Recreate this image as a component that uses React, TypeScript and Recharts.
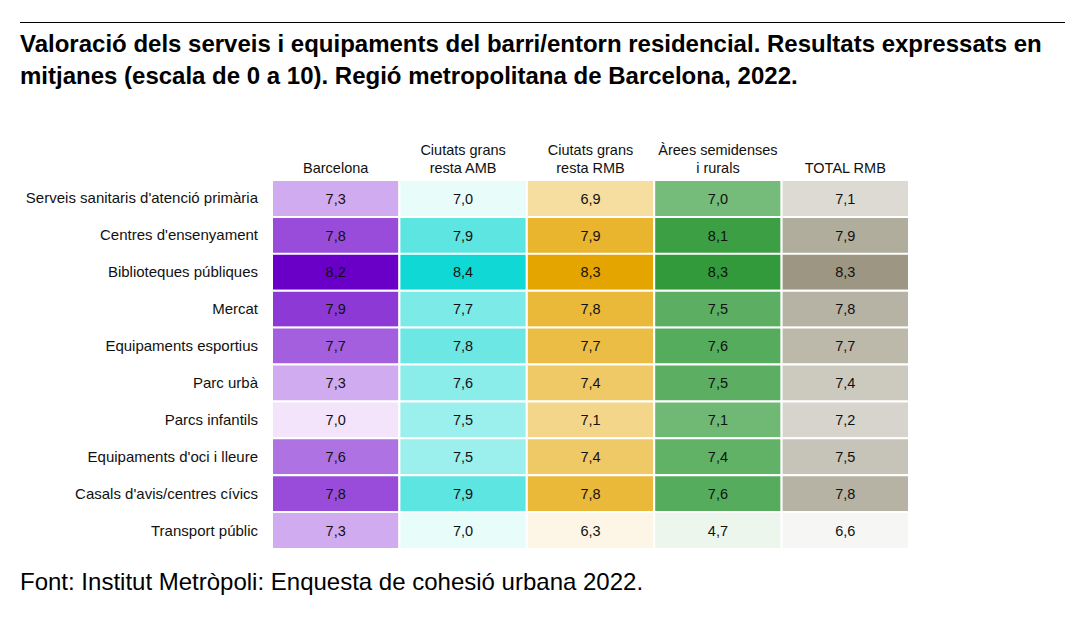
import React from 'react';
import { BarChart, Bar, XAxis, YAxis, Cell, LabelList } from 'recharts';

const rowLabels = [
  "Serveis sanitaris d'atenció primària",
  "Centres d'ensenyament",
  'Biblioteques públiques',
  'Mercat',
  'Equipaments esportius',
  'Parc urbà',
  'Parcs infantils',
  "Equipaments d'oci i lleure",
  "Casals d'avis/centres cívics",
  'Transport públic',
];

const columnHeaders = [
  ['Barcelona'],
  ['Ciutats grans', 'resta AMB'],
  ['Ciutats grans', 'resta RMB'],
  ['Àrees semidenses', 'i rurals'],
  ['TOTAL RMB'],
];

const barcelona = [7.3, 7.8, 8.2, 7.9, 7.7, 7.3, 7.0, 7.6, 7.8, 7.3];
const restaAMB = [7.0, 7.9, 8.4, 7.7, 7.8, 7.6, 7.5, 7.5, 7.9, 7.0];
const restaRMB = [6.9, 7.9, 8.3, 7.8, 7.7, 7.4, 7.1, 7.4, 7.8, 6.3];
const semidenses = [7.0, 8.1, 8.3, 7.5, 7.6, 7.5, 7.1, 7.4, 7.6, 4.7];
const totalRMB = [7.1, 7.9, 8.3, 7.8, 7.7, 7.4, 7.2, 7.5, 7.8, 6.6];

const series = [barcelona, restaAMB, restaRMB, semidenses, totalRMB];

// colour ramps per column (low -> high)
const lowColors = ['#f3e4fc', '#e8fcfa', '#fdf6e6', '#ecf6ec', '#f6f6f4'];
const highColors = ['#6a00c8', '#10d8d4', '#e5a500', '#329a3a', '#9c9682'];

const hexToRgb = (h: string) => [1, 3, 5].map((i) => parseInt(h.slice(i, i + 2), 16));
const colorFor = (col: number, v: number) => {
  const vals = series[col];
  const mn = Math.min(...vals);
  const mx = Math.max(...vals);
  const t = mx === mn ? 0 : (v - mn) / (mx - mn);
  const a = hexToRgb(lowColors[col]);
  const b = hexToRgb(highColors[col]);
  const c = a.map((x, i) => Math.round(x + (b[i] - x) * t));
  return `rgb(${c[0]},${c[1]},${c[2]})`;
};

const tableData = rowLabels.map((row, i) => {
  const o: any = { row };
  series.forEach((s, k) => {
    o[`s${k}`] = 1;
    o[`v${k}`] = s[i];
  });
  return o;
});

const FONT = '"Liberation Sans", Arial, sans-serif';

const HeaderTick = (props: any) => {
  const { x, y, payload } = props;
  const idx = Math.floor(payload.value);
  const lines = columnHeaders[idx] || [];
  const n = lines.length;
  return (
    <text x={x} y={y} textAnchor="middle" fontSize={14.5} fill="#111" fontFamily={FONT}>
      {lines.map((l, j) => (
        <tspan key={j} x={x} y={y - 5 - (n - 1 - j) * 18}>
          {l}
        </tspan>
      ))}
    </text>
  );
};

const RowTick = (props: any) => {
  const { x, y, payload } = props;
  return (
    <text x={x} y={y} dy={5} textAnchor="end" fontSize={15} fill="#111" fontFamily={FONT}>
      {payload.value}
    </text>
  );
};

export default function App() {
  return (
    <div
      style={{
        position: 'absolute',
        left: 0,
        top: 0,
        width: 1083,
        height: 626,
        background: '#fff',
        fontFamily: FONT,
      }}
    >
      <div style={{ position: 'absolute', left: 20, top: 22, width: 1045, height: 1, background: '#000' }} />
      <div
        style={{
          position: 'absolute',
          left: 20,
          top: 28,
          width: 1060,
          fontSize: 24,
          fontWeight: 'bold',
          lineHeight: '32px',
          color: '#000',
          whiteSpace: 'nowrap',
        }}
      >
        Valoració dels serveis i equipaments del barri/entorn residencial. Resultats expressats en
        <br />
        mitjanes (escala de 0 a 10). Regió metropolitana de Barcelona, 2022.
      </div>
      <div style={{ position: 'absolute', left: 0, top: 130 }}>
        <BarChart
          width={1083}
          height={430}
          data={tableData}
          layout="vertical"
          margin={{ top: 0, right: 174, bottom: 11, left: 0 }}
          barCategoryGap={0}
        >
          <XAxis
            type="number"
            orientation="top"
            domain={[0, 5]}
            ticks={[0.5, 1.5, 2.5, 3.5, 4.5]}
            height={50}
            axisLine={false}
            tickLine={false}
            tickSize={0}
            tick={<HeaderTick />}
            interval={0}
          />
          <YAxis
            type="category"
            dataKey="row"
            width={272}
            axisLine={false}
            tickLine={false}
            tickSize={0}
            tickMargin={14}
            tick={<RowTick />}
            interval={0}
          />
          {series.map((s, k) => (
            <Bar key={k} dataKey={`s${k}`} stackId="a" isAnimationActive={false}>
              {s.map((v, i) => (
                <Cell key={i} fill={colorFor(k, v)} stroke="#fff" strokeWidth={2} />
              ))}
              <LabelList
                dataKey={`v${k}`}
                position="center"
                fill="#111"
                fontSize={14.5}
                fontFamily={FONT}
                formatter={(v: any) => Number(v).toFixed(1).replace('.', ',')}
              />
            </Bar>
          ))}
        </BarChart>
      </div>
      <div style={{ position: 'absolute', left: 20, top: 568, fontSize: 24, color: '#000', whiteSpace: 'nowrap' }}>
        Font: Institut Metròpoli: Enquesta de cohesió urbana 2022.
      </div>
    </div>
  );
}
